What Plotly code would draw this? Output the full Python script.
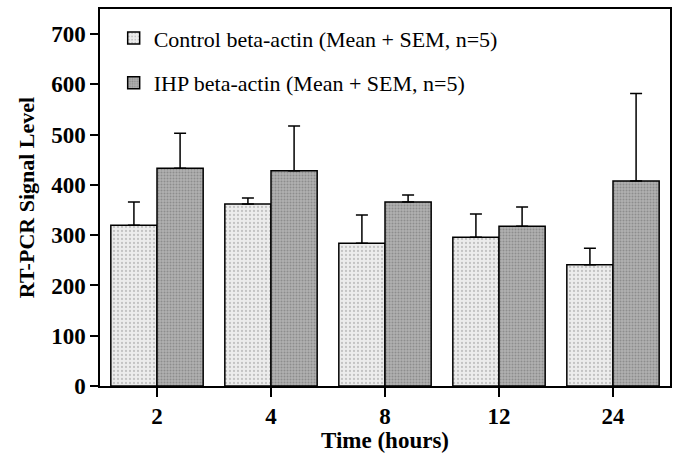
import plotly.graph_objects as go

times = ["2", "4", "8", "12", "24"]
control_mean = [320, 362, 284, 296, 241]
control_sem = [46, 12, 56, 46, 33]
ihp_mean = [433, 428, 366, 318, 408]
ihp_sem = [70, 89, 14, 38, 174]
y_ticks = [0, 100, 200, 300, 400, 500, 600, 700]

fig = go.Figure()
fig.add_trace(go.Bar(
    x=times, y=control_mean, name="Control beta-actin (Mean + SEM, n=5)",
    legendgroup="c",
    marker=dict(color="#e4e4e4", line=dict(color="black", width=1.5),
                pattern=dict(shape=".", fgcolor="#9a9a9a", bgcolor="#ececec", size=4, solidity=0.25)),
    error_y=dict(type="data", array=control_sem, arrayminus=[0]*5, symmetric=False,
                 color="black", thickness=1.5, width=6),
))
fig.add_trace(go.Bar(
    x=times, y=ihp_mean, name="IHP beta-actin (Mean + SEM, n=5)",
    legendgroup="i",
    marker=dict(color="#a0a0a0", line=dict(color="black", width=1.5),
                pattern=dict(shape=".", fgcolor="#6a6a6a", bgcolor="#b0b0b0", size=3, solidity=0.35)),
    error_y=dict(type="data", array=ihp_sem, arrayminus=[0]*5, symmetric=False,
                 color="black", thickness=1.5, width=6),
))

fig.update_layout(
    width=675, height=453,
    margin=dict(l=100, r=5, t=9, b=67, autoexpand=False),
    paper_bgcolor="white", plot_bgcolor="white",
    barmode="group", bargap=0.19, bargroupgap=0,
    font=dict(family="Liberation Serif", color="black"),
    showlegend=True,
    legend=dict(x=0.024, y=0.978, xanchor="left", yanchor="top",
                font=dict(family="Liberation Serif", size=22, color="black"),
                bgcolor="rgba(0,0,0,0)", tracegroupgap=13, traceorder="grouped"),
    xaxis=dict(
        range=[-0.5, 4.5], showline=True, linecolor="black", linewidth=1.5,
        mirror=True, ticks="outside", ticklen=9, tickwidth=1.5, tickcolor="black",
        tickfont=dict(family="Liberation Serif", size=23, color="black", weight="bold"),
        title=dict(text="<b>Time (hours)</b>", font=dict(family="Liberation Serif", size=23), standoff=4),
        automargin=False,
    ),
    yaxis=dict(
        range=[0, 750], tickvals=y_ticks, showgrid=False, zeroline=False,
        showline=True, linecolor="black", linewidth=1.5, mirror=True,
        ticks="outside", ticklen=8, tickwidth=1.5, tickcolor="black",
        tickfont=dict(family="Liberation Serif", size=23, color="black", weight="bold"),
        title=dict(text="<b>RT-PCR Signal Level</b>", font=dict(family="Liberation Serif", size=22), standoff=10),
        automargin=False,
    ),
)
fig.write_html("out.html", config={"displayModeBar": False},
               post_script="document.body.style.margin='0';document.body.style.overflow='hidden';")
